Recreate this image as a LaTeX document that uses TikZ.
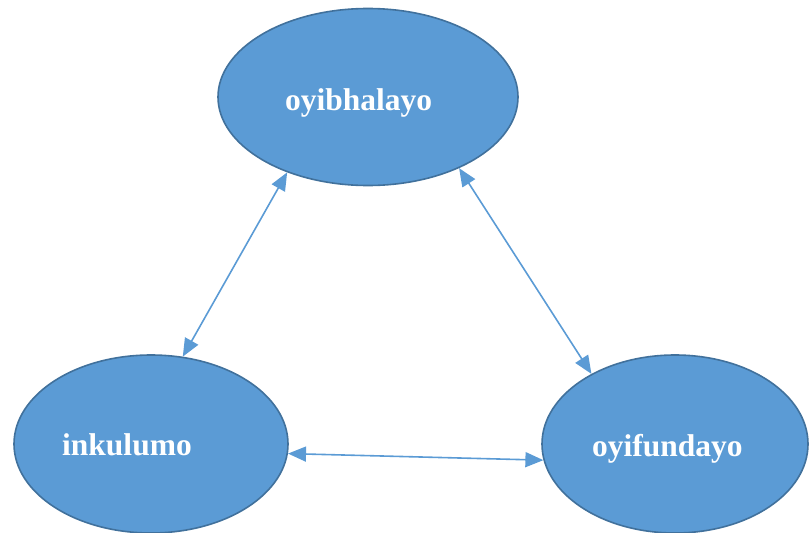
\documentclass[tikz,border=0pt]{standalone}
\usepackage{fontspec}
\setmainfont{Liberation Serif}
\usetikzlibrary{shapes.geometric,arrows.meta}
\definecolor{ofill}{HTML}{5B9BD5}
\definecolor{odraw}{HTML}{41719C}
\begin{document}
\begin{tikzpicture}[x=1pt,y=-1pt,
  bubble/.style={ellipse,draw=odraw,fill=ofill,line width=1.6pt,inner sep=0pt},
  lbl/.style={text=white,font=\fontsize{31.5}{36}\selectfont\bfseries,anchor=base west,inner sep=0pt},
  link/.style={draw=ofill,line width=1.6pt,{Triangle[length=18pt,width=15pt]}-{Triangle[length=18pt,width=15pt]}}]
\clip (0,0) rectangle (809,533);
\node[bubble,minimum width=300pt,minimum height=177pt] (top) at (368,97) {};
\node[bubble,minimum width=274pt,minimum height=178pt] (left) at (151,444) {};
\node[bubble,minimum width=266pt,minimum height=178pt] (right) at (675,444) {};
\node[lbl] (ttop) at (285,110) {oyibhalayo};
\node[lbl] (tleft) at (62,455) {inkulumo};
\node[lbl] (tright) at (592,456) {oyifundayo};
\draw[link] (top.223) -- (left.70);
\draw[link] (top.322.5) -- (right.140.6);
\draw[link] (left.356) -- (right.187.7);
\end{tikzpicture}
\end{document}
